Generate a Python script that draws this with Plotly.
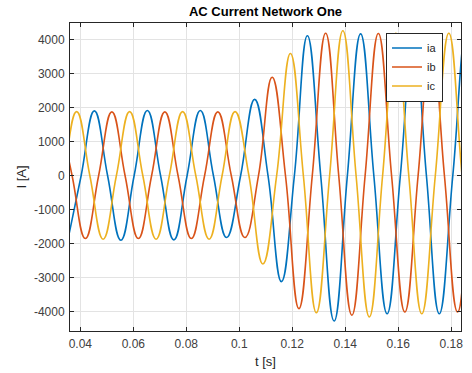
import plotly.graph_objects as go

# Extremes (peaks / troughs) of each phase current
ia_t = [0.0353, 0.0453, 0.0553, 0.0653, 0.0753, 0.0853, 0.0952, 0.1058, 0.1159,
        0.1257, 0.1358, 0.1458, 0.1558, 0.1658, 0.1755, 0.1857, 0.1957]
ia_v = [-1890, 1910, -1900, 1920, -1890, 1920, -1820, 2250, -3120,
        4125, -4280, 4180, -4065, 4180, -4065, 4200, -4100]
ib_t = [0.0319, 0.0419, 0.0519, 0.0619, 0.0719, 0.0819, 0.0919, 0.1021, 0.1124,
        0.1225, 0.1326, 0.1425, 0.1525, 0.1625, 0.1725, 0.1824, 0.1924]
ib_v = [1870, -1850, 1880, -1850, 1880, -1850, 1880, -1820, 2900,
        -3915, 4200, -4110, 4190, -4015, 4150, -4015, 4150]
ic_t = [0.0286, 0.0386, 0.0486, 0.0586, 0.0686, 0.0786, 0.0886, 0.0984, 0.1089,
        0.1193, 0.1291, 0.1391, 0.1491, 0.1591, 0.1689, 0.1791, 0.1891]
ic_v = [-1870, 1890, -1870, 1890, -1870, 1890, -1870, 1890, -2600,
        3600, -4035, 4270, -4160, 4200, -4065, 4200, -4100]

series_names = ["ia", "ib", "ic"]
x_ticks = [0.04, 0.06, 0.08, 0.1, 0.12, 0.14, 0.16, 0.18]
x_labels = ["0.04", "0.06", "0.08", "0.1", "0.12", "0.14", "0.16", "0.18"]
y_ticks = [-4000, -3000, -2000, -1000, 0, 1000, 2000, 3000, 4000]
y_labels = ["-4000", "-3000", "-2000", "-1000", "0", "1000", "2000", "3000", "4000"]

colors = ["#0072BD", "#D95319", "#EDB120"]


def with_crossings(ts, vs):
    """Extremes plus the zero crossing (current = 0) between each pair."""
    xs, ys = [], []
    for i in range(len(ts)):
        xs.append(ts[i]); ys.append(vs[i])
        if i < len(ts) - 1:
            xs.append((ts[i] + ts[i + 1]) / 2); ys.append(0)
    return xs, ys


fig = go.Figure()
for name, ts, vs, c in zip(series_names, [ia_t, ib_t, ic_t], [ia_v, ib_v, ic_v], colors):
    xs, ys = with_crossings(ts, vs)
    fig.add_trace(go.Scatter(x=xs, y=ys, mode="lines", name=name,
                             line=dict(color=c, width=1.6, shape="spline", smoothing=1.3)))

FONT = "Liberation Sans, Arial"
axis_common = dict(
    showline=True, linecolor="#262626", linewidth=1, mirror="ticks",
    ticks="inside", ticklen=4, tickcolor="#262626", automargin=False,
    showgrid=True, gridcolor="#e3e3e3", gridwidth=1, zeroline=False,
    tickfont=dict(family=FONT, size=12, color="#404040"),
)

fig.update_layout(
    width=472, height=373,
    margin=dict(l=70, r=11, t=23, b=42),
    paper_bgcolor="white", plot_bgcolor="white",
    title=dict(text="AC Current Network One", x=0.5625, xanchor="center",
               y=1 - 11 / 373, yanchor="middle", yref="container",
               font=dict(family=FONT, size=13, color="#000000", weight="bold")),
    xaxis=dict(range=[0.0361, 0.1837], tickvals=x_ticks, ticktext=x_labels,
               ticklabelstandoff=2,
               title=dict(text="t [s]", standoff=6,
                          font=dict(family=FONT, size=13, color="#262626")),
               **axis_common),
    yaxis=dict(range=[-4575, 4500], tickvals=y_ticks, ticktext=y_labels,
               ticklabelstandoff=2,
               title=dict(text="I [A]", standoff=4,
                          font=dict(family=FONT, size=13, color="#262626")),
               **axis_common),
    legend=dict(x=0.954, xanchor="right", y=0.969, yanchor="top",
                bgcolor="white", bordercolor="#262626", borderwidth=1,
                font=dict(family=FONT, size=11, color="#262626"),
                tracegroupgap=0, itemwidth=30),
    showlegend=True,
)

fig.write_html("out.html", config={"displayModeBar": False},
               post_script="document.body.style.margin='0';document.body.style.overflow='hidden';")
